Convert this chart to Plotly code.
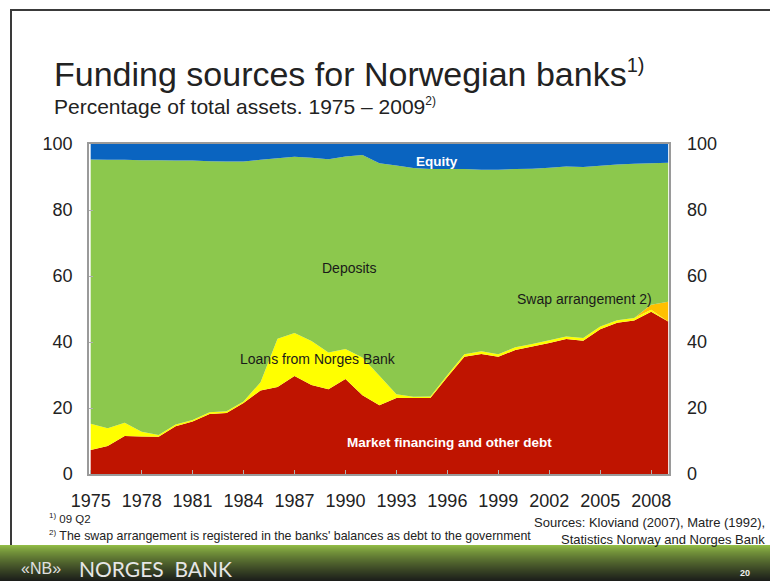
import plotly.graph_objects as go

# Funding sources for Norwegian banks, share of total assets (per cent)
years = list(range(1975, 2010))

market_financing = [7.3, 8.5, 11.5, 11.4, 11.3, 14.5, 15.9, 18.2, 18.5, 21.5,
                    25.3, 26.4, 29.7, 27.0, 25.7, 28.8, 23.9, 20.8, 23.0, 23.0,
                    23.0, 29.4, 35.5, 36.4, 35.5, 37.6, 38.6, 39.7, 40.9, 40.4,
                    43.9, 45.8, 46.5, 49.2, 46.2]
loans_norges_bank = [7.9, 5.4, 4.0, 1.4, 0.5, 0.5, 0.5, 0.5, 0.5, 0.5,
                     2.5, 14.6, 13.0, 13.3, 11.1, 9.1, 11.4, 9.0, 1.2, 0.4,
                     0.5, 0.6, 0.8, 0.8, 0.8, 0.8, 0.8, 0.8, 0.8, 0.8,
                     0.8, 0.8, 0.8, 0.6, 0.0]
swap_arrangement = [0.0] * 33 + [1.5, 6.0]
equity = [4.7, 4.8, 4.8, 4.9, 4.9, 5.0, 5.0, 5.2, 5.3, 5.3,
          4.8, 4.3, 3.9, 4.2, 4.6, 3.8, 3.3, 5.8, 6.5, 7.3,
          7.6, 7.6, 7.6, 7.8, 7.8, 7.6, 7.5, 7.2, 6.8, 7.0,
          6.6, 6.2, 6.0, 5.8, 5.7]
deposits = [round(100 - m - l - s - e, 2) for m, l, s, e in
            zip(market_financing, loans_norges_bank, swap_arrangement, equity)]

x_ticks = list(range(1975, 2009, 3))
y_ticks = [0, 20, 40, 60, 80, 100]

COL_MARKET = "#BF1400"
COL_LOANS = "#FFFF00"
COL_SWAP = "#FFC000"
COL_DEPOSITS = "#8CC84D"
COL_EQUITY = "#0A64C0"

FONT = "Liberation Sans, Arial, sans-serif"

# plot area in page pixels
W, H = 770, 581
PL, PR, PT, PB = 89, 669, 144, 474


def px(xp):
    return (xp - PL) / (PR - PL)


def py(yp):
    return (PB - yp) / (PB - PT)


def sup(txt, size):
    return f"<sup><span style='font-size:{size}px'>{txt}</span></sup>"


fig = go.Figure()
series = [
    ("Market financing and other debt", market_financing, COL_MARKET),
    ("Loans from Norges Bank", loans_norges_bank, COL_LOANS),
    ("Swap arrangement", swap_arrangement, COL_SWAP),
    ("Deposits", deposits, COL_DEPOSITS),
    ("Equity", equity, COL_EQUITY),
]
for name, vals, col in series:
    fig.add_trace(go.Scatter(
        x=years, y=vals, name=name, stackgroup="funding", mode="none",
        fillcolor=col, line=dict(width=0), showlegend=False,
    ))

# invisible trace so the right-hand axis is drawn
fig.add_trace(go.Scatter(
    x=years, y=market_financing, yaxis="y2", mode="lines",
    line=dict(width=0, color="rgba(0,0,0,0)"), showlegend=False,
    hoverinfo="skip",
))

axis_line = "#9a9a9a"
fig.update_layout(
    width=W, height=H,
    margin=dict(l=PL, r=W - PR, t=PT, b=H - PB, pad=0),
    paper_bgcolor="white", plot_bgcolor="white",
    font=dict(family=FONT, color="#222"),
    xaxis=dict(
        range=[1974.9, 2009.05], tickvals=x_ticks, ticktext=[str(v) for v in x_ticks],
        ticks="inside", ticklen=4, tickcolor="#b0b0b0",
        showline=True, linecolor=axis_line, linewidth=1.5, mirror=True,
        showgrid=False, zeroline=False,
        tickfont=dict(size=18, color="#222", family=FONT),
        ticklabelstandoff=10,
    ),
    yaxis=dict(
        range=[0, 100], tickvals=y_ticks, ticks="inside", ticklen=4,
        tickcolor="#b0b0b0", showline=True, linecolor=axis_line,
        linewidth=1.5, mirror=True, showgrid=False, zeroline=False,
        tickfont=dict(size=18, color="#222", family=FONT),
        ticklabelstandoff=11,
    ),
    yaxis2=dict(
        range=[0, 100], tickvals=y_ticks, overlaying="y", side="right",
        ticks="", showline=False, showgrid=False, zeroline=False,
        tickfont=dict(size=18, color="#222", family=FONT),
        ticklabelstandoff=17,
    ),
)

annotations = []
# series labels inside the chart
label_specs = [
    ("Deposits", 1990.2, 62.4, "#1a1a1a", False),
    ("Equity", 1995.4, 94.8, "white", True),
    ("Loans from Norges Bank", 1988.4, 34.8, "#1a1a1a", False),
    ("Swap arrangement 2)", 2004.1, 53.0, "#1a1a1a", False),
    ("Market financing and other debt", 1996.1, 9.4, "white", True),
]
for text, xv, yv, col, bold in label_specs:
    annotations.append(dict(
        x=xv, y=yv, xref="x", yref="y", showarrow=False,
        text=f"<b>{text}</b>" if bold else text,
        font=dict(size=14 if not bold else 13.5, color=col, family=FONT),
        xanchor="center", yanchor="middle",
    ))

# heading
annotations.append(dict(
    x=px(52), y=py(74), xref="paper", yref="paper", showarrow=False,
    text="Funding sources for Norwegian banks" + sup("1)", 20),
    font=dict(size=34, color="#222", family=FONT),
    xanchor="left", yanchor="middle",
))
annotations.append(dict(
    x=px(52), y=py(106), xref="paper", yref="paper", showarrow=False,
    text="Percentage of total assets. 1975 – 2009" + sup("2)", 12),
    font=dict(size=21, color="#222", family=FONT),
    xanchor="left", yanchor="middle",
))

# footnotes and sources
annotations.append(dict(
    x=px(47), y=py(518), xref="paper", yref="paper", showarrow=False,
    text=sup("1)", 8) + " 09 Q2", font=dict(size=11.5, color="#222", family=FONT),
    xanchor="left", yanchor="middle",
))
annotations.append(dict(
    x=px(47), y=py(535), xref="paper", yref="paper", showarrow=False,
    text=sup("2)", 8) + " The swap arrangement is registered in the banks' balances as debt to the government",
    font=dict(size=12.4, color="#222", family=FONT),
    xanchor="left", yanchor="middle",
))
annotations.append(dict(
    x=px(767), y=py(522), xref="paper", yref="paper", showarrow=False,
    text="Sources: Kloviand (2007), Matre (1992),",
    font=dict(size=13, color="#222", family=FONT),
    xanchor="right", yanchor="middle",
))
annotations.append(dict(
    x=px(767), y=py(539), xref="paper", yref="paper", showarrow=False,
    text="Statistics Norway and Norges Bank",
    font=dict(size=13, color="#222", family=FONT),
    xanchor="right", yanchor="middle",
))

# footer band text
annotations.append(dict(
    x=px(19), y=py(568), xref="paper", yref="paper", showarrow=False,
    text="«NB»", font=dict(size=16, color="#e0e0e0", family=FONT),
    xanchor="left", yanchor="middle",
))
annotations.append(dict(
    x=px(77), y=py(568), xref="paper", yref="paper", showarrow=False,
    text="NORGES  BANK", font=dict(size=21, color="#e6e6e6", family="Lato, " + FONT),
    xanchor="left", yanchor="middle",
))
annotations.append(dict(
    x=px(745), y=py(573), xref="paper", yref="paper", showarrow=False,
    text="<b>20</b>", font=dict(size=9, color="#f0f0f0", family=FONT),
    xanchor="center", yanchor="middle",
))

shapes = []
# slide frame
shapes.append(dict(
    type="rect", xref="paper", yref="paper",
    x0=px(11), x1=px(790), y0=py(560), y1=py(10),
    line=dict(color="#3a3a3a", width=2), fillcolor="rgba(0,0,0,0)", layer="below",
))

# footer band: green fading to near-black
top_rgb = (146, 188, 70)
bot_rgb = (28, 30, 26)
band_top, band_bot = 545, 581
steps = band_bot - band_top
for i in range(steps):
    t = i / (steps - 1)
    t = t ** 0.8
    r = round(top_rgb[0] + (bot_rgb[0] - top_rgb[0]) * t)
    g = round(top_rgb[1] + (bot_rgb[1] - top_rgb[1]) * t)
    b = round(top_rgb[2] + (bot_rgb[2] - top_rgb[2]) * t)
    shapes.append(dict(
        type="rect", xref="paper", yref="paper",
        x0=px(-5), x1=px(W + 5), y0=py(band_top + i + 1.05), y1=py(band_top + i),
        line=dict(width=0), fillcolor=f"rgb({r},{g},{b})", layer="below",
    ))

fig.update_layout(annotations=annotations, shapes=shapes)

fig.write_html("out.html")
